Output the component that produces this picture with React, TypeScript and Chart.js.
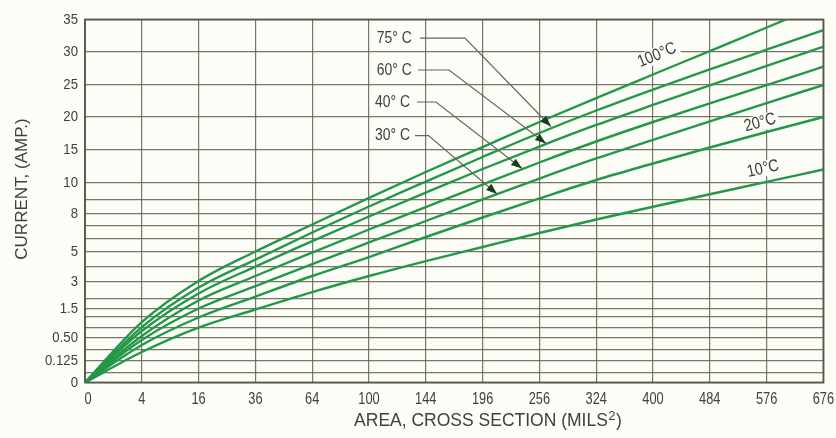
import React, { useEffect, useRef } from 'react';
import { Chart, LinearScale, registerables } from 'chart.js';

Chart.register(...registerables);

// ---------------- data ----------------
const AREA_MILS2 = [0, 4, 16, 36, 64, 100, 144, 196, 256, 324, 400, 484, 576, 676];
const X_TICK_LABELS = ['0', '4', '16', '36', '64', '100', '144', '196', '256', '324', '400', '484', '576', '676'];

// current (A) at each area for each temperature rise
const RISE_100C = [0, 0.88, 3.05, 5.02, 7.12, 9.12, 11.64, 15.38, 19.23, 22.92, 26.54, 30.15, 33.77, 37.38];
const RISE_75C = [0, 0.77, 2.66, 4.48, 6.48, 8.52, 10.22, 13.88, 17.54, 21.0, 24.23, 27.31, 30.35, 33.38];
const RISE_60C = [0, 0.675, 2.32, 4.01, 5.81, 7.76, 9.44, 12.09, 15.46, 18.77, 21.85, 24.85, 27.85, 30.82];
const RISE_40C = [0, 0.55, 1.92, 3.38, 4.95, 6.72, 8.48, 9.91, 13.06, 16.23, 19.23, 22.11, 24.92, 27.74];
const RISE_30C = [0, 0.458, 1.5, 2.75, 4.18, 5.7, 7.4, 9.03, 10.67, 13.66, 16.49, 19.34, 22.15, 24.92];
const RISE_20C = [0, 0.354, 0.982, 2.14, 3.38, 4.65, 6.12, 7.68, 9.09, 10.45, 12.91, 15.31, 17.69, 20.0];
const RISE_10C = [0, 0.227, 0.76, 1.44, 2.4, 3.38, 4.38, 5.36, 6.44, 7.52, 8.5, 9.34, 10.16, 12.01];

const SERIES = [
  { name: '100°C', values: RISE_100C },
  { name: '75°C', values: RISE_75C },
  { name: '60°C', values: RISE_60C },
  { name: '40°C', values: RISE_40C },
  { name: '30°C', values: RISE_30C },
  { name: '20°C', values: RISE_20C },
  { name: '10°C', values: RISE_10C },
];

// y axis: grid values and their (non-uniform) spacing along the axis
const Y_GRID_VALUES = [0, 0.0625, 0.125, 0.25, 0.5, 0.75, 1, 1.5, 2, 3, 4, 5, 6, 7, 8, 9, 10, 15, 20, 25, 30, 35];
const Y_GRID_SPACING = [0, 10, 21.5, 32.5, 44.5, 54.5, 65.8, 74, 83.5, 100.8, 115.8, 130.7, 144, 156.5, 169, 182.5, 199.5, 233, 265.5, 298, 330.5, 363];
const Y_TICK_LABEL_VALUES = [0, 0.125, 0.5, 1.5, 3, 5, 8, 10, 15, 20, 25, 30, 35];
const Y_TICK_LABEL_TEXT = ['0', '0.125', '0.50', '1.5', '3', '5', '8', '10', '15', '20', '25', '30', '35'];

// labels written along curves (area, current of label centre)
const CURVE_LABELS = [
  { text: '100°C', series: 0, area: 405.7, current: 29.5 },
  { text: '20°C', series: 5, area: 565, current: 19.1 },
  { text: '10°C', series: 6, area: 570, current: 12.1 },
];

// labels with leader arrows (area, current)
const LEADER_LABELS = [
  { text: '75° C', at: [105.5, 32.15], path: [[139.1, 32.15], [179.0, 32.15], [269.2, 18.54]] },
  { text: '60° C', at: [105.5, 27.23], path: [[137.5, 27.23], [164.3, 27.23], [263.5, 15.92]] },
  { text: '40° C', at: [104.3, 22.31], path: [[136.7, 22.31], [152.7, 22.31], [236.8, 12.16]] },
  { text: '30° C', at: [104.3, 17.15], path: [[135.0, 17.15], [146.3, 17.15], [210.5, 9.35]] },
];

// ---------------- styling ----------------
const BG = '#fdfdf7';
const LINE_COLOR = 'rgb(34,152,72)';
const GRID_COLOR = 'rgba(95,95,80,0.85)';
const TEXT_COLOR = '#404040';
const FONT = '"Liberation Sans", Arial, sans-serif';

// ---------------- custom scales ----------------
function piecewise(v: number, xs: number[], ys: number[]) {
  const n = xs.length;
  let i = 1;
  while (i < n - 1 && v > xs[i]) i++;
  const x0 = xs[i - 1], x1 = xs[i], y0 = ys[i - 1], y1 = ys[i];
  return y0 + ((v - x0) * (y1 - y0)) / (x1 - x0);
}

class MappedLinearScale extends LinearScale {
  fwd(v: number) { return v; }
  inv(t: number) { return t; }
  gridValues(): number[] { return []; }
  buildTicks() {
    return this.gridValues().map((v) => ({ value: v }));
  }
  getPixelForValue(value: any) {
    if (value === null || value === undefined || Number.isNaN(+value)) return NaN;
    const a = this.fwd(this.min), b = this.fwd(this.max);
    return this.getPixelForDecimal((this.fwd(+value) - a) / (b - a));
  }
  getValueForPixel(pixel: number) {
    const a = this.fwd(this.min), b = this.fwd(this.max);
    return this.inv(a + this.getDecimalForPixel(pixel) * (b - a));
  }
}

class SqrtAreaScale extends MappedLinearScale {
  static id = 'sqrtArea';
  static defaults = {};
  fwd(v: number) { return Math.sqrt(Math.max(0, v)); }
  inv(t: number) { return t * t; }
  gridValues() { return AREA_MILS2; }
}

class CurrentScale extends MappedLinearScale {
  static id = 'currentAxis';
  static defaults = {};
  fwd(v: number) { return piecewise(v, Y_GRID_VALUES, Y_GRID_SPACING); }
  inv(t: number) { return piecewise(t, Y_GRID_SPACING, Y_GRID_VALUES); }
  gridValues() { return Y_GRID_VALUES; }
}

Chart.register(SqrtAreaScale as any, CurrentScale as any);

// condensed text helper (real text, squeezed horizontally)
function squeezedText(ctx: any, text: string, x: number, y: number, size: number, sx: number, align: string) {
  ctx.save();
  ctx.translate(x, y);
  ctx.scale(sx, 1);
  ctx.font = `${size}px ${FONT}`;
  ctx.textAlign = align;
  ctx.textBaseline = 'middle';
  ctx.fillText(text, 0, 0);
  ctx.restore();
}

// ---------------- plugins ----------------
const framePlugin = {
  id: 'frame',
  beforeDatasetsDraw(chart: any) {
    const { ctx, chartArea: a } = chart;
    ctx.save();
    ctx.strokeStyle = '#55554a';
    ctx.lineWidth = 1.8;
    ctx.strokeRect(a.left, a.top, a.right - a.left, a.bottom - a.top);
    ctx.restore();
  },
};

const tickLabelPlugin = {
  id: 'tickLabels',
  afterDraw(chart: any) {
    const { ctx, chartArea: a, scales } = chart;
    ctx.save();
    ctx.fillStyle = TEXT_COLOR;
    AREA_MILS2.forEach((v, i) => {
      const px = scales.x.getPixelForValue(v) + (i === 0 ? 3 : 0);
      squeezedText(ctx, X_TICK_LABELS[i], px, a.bottom + 17, 16, 0.8, 'center');
    });
    Y_TICK_LABEL_VALUES.forEach((v, i) => {
      squeezedText(ctx, Y_TICK_LABEL_TEXT[i], a.left - 7, scales.y.getPixelForValue(v), 15.5, 0.85, 'right');
    });
    ctx.restore();
  },
};

const annotationPlugin = {
  id: 'annotations',
  afterDatasetsDraw(chart: any) {
    const { ctx, scales } = chart;
    const xs = scales.x, ys = scales.y;
    ctx.save();

    // leader labels
    for (const lab of LEADER_LABELS) {
      const pts = lab.path.map(([a, c]) => [xs.getPixelForValue(a), ys.getPixelForValue(c)]);
      ctx.strokeStyle = '#66665a';
      ctx.lineWidth = 1.2;
      ctx.beginPath();
      ctx.moveTo(pts[0][0], pts[0][1]);
      for (let i = 1; i < pts.length; i++) ctx.lineTo(pts[i][0], pts[i][1]);
      ctx.stroke();
      // arrow head
      const [tx, ty] = pts[pts.length - 1];
      const [px, py] = pts[pts.length - 2];
      const len = Math.hypot(tx - px, ty - py);
      const ux = (tx - px) / len, uy = (ty - py) / len;
      const L = 11, W = 4;
      ctx.fillStyle = '#183d25';
      ctx.beginPath();
      ctx.moveTo(tx, ty);
      ctx.lineTo(tx - ux * L - uy * W, ty - uy * L + ux * W);
      ctx.lineTo(tx - ux * L + uy * W, ty - uy * L - ux * W);
      ctx.closePath();
      ctx.fill();
      // text
      ctx.fillStyle = TEXT_COLOR;
      squeezedText(ctx, lab.text, xs.getPixelForValue(lab.at[0]), ys.getPixelForValue(lab.at[1]), 17, 0.82, 'left');
    }

    // labels along curves
    for (const lab of CURVE_LABELS) {
      const meta = chart.getDatasetMeta(lab.series);
      let k = 0;
      while (k < AREA_MILS2.length - 2 && lab.area > AREA_MILS2[k + 1]) k++;
      const p0 = meta.data[k], p1 = meta.data[k + 1];
      const ang = Math.atan2(p1.y - p0.y, p1.x - p0.x);
      const cx = xs.getPixelForValue(lab.area), cy = ys.getPixelForValue(lab.current);
      ctx.save();
      ctx.translate(cx, cy);
      ctx.rotate(ang);
      ctx.font = `17px ${FONT}`;
      const w = ctx.measureText(lab.text).width * 0.85;
      ctx.fillStyle = BG;
      ctx.fillRect(-w / 2 - 3, -8, w + 6, 16);
      ctx.fillStyle = '#3a3f3a';
      squeezedText(ctx, lab.text, 0, 0, 17, 0.85, 'center');
      ctx.restore();
    }
    ctx.restore();
  },
};

const titlePlugin = {
  id: 'axisTitles',
  afterDraw(chart: any) {
    const { ctx, chartArea: a } = chart;
    ctx.save();
    ctx.fillStyle = TEXT_COLOR;
    ctx.textBaseline = 'middle';
    // y title
    ctx.save();
    ctx.translate(a.left - 63, 189);
    ctx.rotate(-Math.PI / 2);
    ctx.font = `17px ${FONT}`;
    ctx.textAlign = 'center';
    ctx.fillText('CURRENT, (AMP.)', 0, 0);
    ctx.restore();
    // x title with superscript
    const main = 'AREA, CROSS SECTION (MILS';
    ctx.font = `17.5px ${FONT}`;
    const w1 = ctx.measureText(main).width;
    ctx.font = `13px ${FONT}`;
    const w2 = ctx.measureText('2').width;
    ctx.font = `17.5px ${FONT}`;
    const w3 = ctx.measureText(')').width;
    const total = w1 + w2 + 1 + w3;
    const cx = 488, cy = a.bottom + 38.5;
    const x0 = cx - total / 2;
    ctx.textAlign = 'left';
    ctx.fillText(main, x0, cy);
    ctx.font = `13px ${FONT}`;
    ctx.fillText('2', x0 + w1 + 0.5, cy - 5);
    ctx.font = `17.5px ${FONT}`;
    ctx.fillText(')', x0 + w1 + w2 + 1, cy);
    ctx.restore();
  },
};

export default function App() {
  const ref = useRef<HTMLCanvasElement>(null);
  useEffect(() => {
    const canvas = ref.current;
    if (!canvas) return;
    const chart = new Chart(canvas, {
      type: 'line',
      data: {
        datasets: SERIES.map((s) => ({
          label: s.name,
          data: AREA_MILS2.map((a, i) => ({ x: a, y: s.values[i] })),
          borderColor: LINE_COLOR,
          borderWidth: 2.4,
          pointRadius: 0,
          cubicInterpolationMode: 'monotone',
          fill: false,
        })),
      } as any,
      options: {
        animation: false,
        responsive: true,
        maintainAspectRatio: false,
        layout: { padding: { top: 19.5, right: 12.6, left: 0, bottom: 0 } },
        plugins: { legend: { display: false }, tooltip: { enabled: false } },
        scales: {
          x: {
            type: 'sqrtArea',
            position: 'bottom',
            min: 0,
            max: 676,
            grid: { color: GRID_COLOR, lineWidth: 1.2, drawTicks: false },
            border: { display: false },
            ticks: { display: false, autoSkip: false },
            afterFit: (s: any) => { s.height = 55.5; },
          },
          y: {
            type: 'currentAxis',
            position: 'left',
            min: 0,
            max: 35,
            grid: { color: GRID_COLOR, lineWidth: 1.2, drawTicks: false },
            border: { display: false },
            ticks: { display: false, autoSkip: false },
            afterFit: (s: any) => { s.width = 85; },
          },
        },
      } as any,
      plugins: [framePlugin, annotationPlugin, tickLabelPlugin, titlePlugin],
    });
    return () => chart.destroy();
  }, []);
  return (
    <div style={{ position: 'fixed', left: 0, top: 0, width: 836, height: 438, background: BG }}>
      <canvas ref={ref} />
    </div>
  );
}
